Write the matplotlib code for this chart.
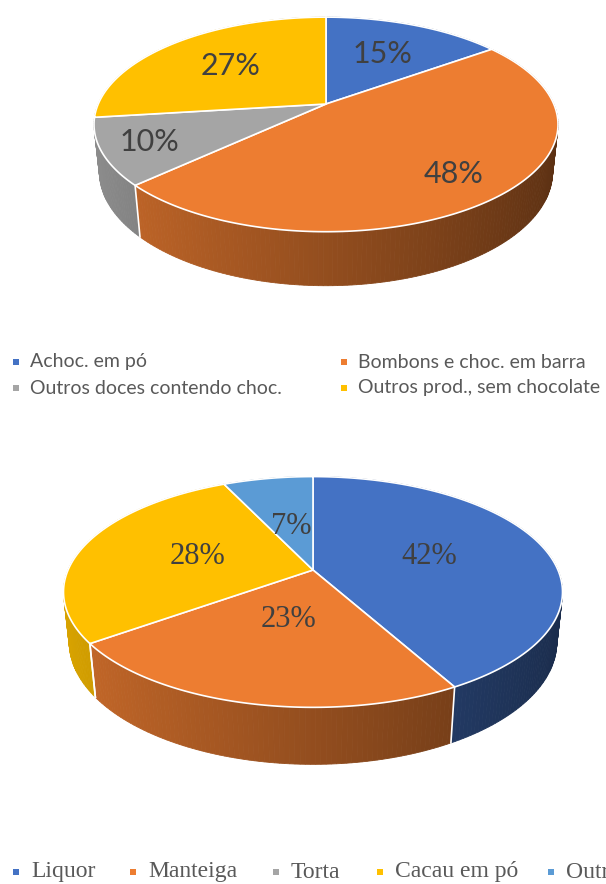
import numpy as np
import matplotlib
matplotlib.use('Agg')
import matplotlib.pyplot as plt
from matplotlib.patches import Polygon, Rectangle
from matplotlib.colors import to_rgb

# data ######################################################################
labels1 = ['Achoc. em pó', 'Bombons e choc. em barra',
           'Outros doces contendo choc.', 'Outros prod., sem chocolate']
values1 = [15, 48, 10, 27]
colors1 = ['#4472C4', '#ED7D31', '#A5A5A5', '#FFC000']

labels2 = ['Liquor', 'Manteiga', 'Torta', 'Cacau em pó', 'Outros']
values2 = [42, 23, 0, 28, 7]
colors2 = ['#4472C4', '#ED7D31', '#A5A5A5', '#FFC000', '#5B9BD5']

# figure, one axes in pixel units ##########################################
W, H = 606, 884
fig = plt.figure(figsize=(W / 100, H / 100), dpi=100)
ax = fig.add_axes([0, 0, 1, 1])
ax.set_xlim(0, W)
ax.set_ylim(H, 0)
ax.axis('off')

# simple perspective camera for the 3d pies
PHI = np.radians(27)
D = 4.68
C, S = np.cos(PHI), np.sin(PHI)


def proj(X, Y, Z):
    d = D + Y * C - Z * S
    return X / d, (Y * S + Z * C) / d


def pie3d(values, colors, cx, cy, width, thick, lab_r, font, fsize):
    t = np.linspace(0, 2 * np.pi, 721)
    xs, _ = proj(np.cos(t), np.sin(t), 0 * t)
    k = width / (2 * xs.max())
    # depth of the cylinder from the wanted front thickness
    yt = -S / (D - C)
    yb = yt - thick / k
    h = (yb * (D - C) + S) / (-C - yb * S)

    def px(X, Y, Z):
        x, y = proj(X, Y, Z)
        return cx + k * x, cy - k * y

    total = float(sum(values))
    edges = np.radians(90 - 360 * np.concatenate([[0], np.cumsum(values)]) / total)

    # side wall, small quads sorted back to front
    quads = []
    for i, col in enumerate(colors):
        a0, a1 = edges[i], edges[i + 1]
        if a0 == a1:
            continue
        n = max(2, int(abs(a0 - a1) / np.radians(1)))
        tt = np.linspace(a0, a1, n + 1)
        base = np.array(to_rgb(col))
        for j in range(n):
            u0, u1 = tt[j], tt[j + 1]
            tm = 0.5 * (u0 + u1)
            f = 0.62 - 0.24 * np.cos(tm)
            shade = np.clip(base * f, 0, 1)
            pts = [px(np.cos(u0), np.sin(u0), 0), px(np.cos(u1), np.sin(u1), 0),
                   px(np.cos(u1), np.sin(u1), -h), px(np.cos(u0), np.sin(u0), -h)]
            quads.append((np.sin(tm), pts, shade))
    quads.sort(key=lambda q: -q[0])
    for _, pts, shade in quads:
        ax.add_patch(Polygon(pts, closed=True, facecolor=shade, edgecolor=shade, lw=0.6))

    # white seams on the wall where a wedge boundary faces the viewer
    for a in edges[:-1]:
        if np.sin(a) < -1 / (D * C):
            p0 = px(np.cos(a), np.sin(a), 0)
            p1 = px(np.cos(a), np.sin(a), -h)
            ax.plot([p0[0], p1[0]], [p0[1], p1[1]], color='white', lw=1.2)

    # top face
    for i, col in enumerate(colors):
        a0, a1 = edges[i], edges[i + 1]
        if a0 == a1:
            continue
        tt = np.linspace(a0, a1, 200)
        pts = [px(0, 0, 0)] + [px(np.cos(u), np.sin(u), 0) for u in tt]
        ax.add_patch(Polygon(pts, closed=True, facecolor=col, edgecolor='white', lw=1.2))

    # percentage labels
    for i, v in enumerate(values):
        if v == 0:
            continue
        m = 0.5 * (edges[i] + edges[i + 1])
        r = lab_r[i]
        x, y = px(r * np.cos(m), r * np.sin(m), 0)
        ax.text(x, y, '%d%%' % round(100 * v / total), ha='center', va='center',
                fontsize=fsize, family=font, color='#404040')


pie3d(values1, colors1, 326, 104, 464, 54, [0.6, 0.78, 0.8, 0.6], 'Lato', 22)
pie3d(values2, colors2, 313, 570, 499, 57, [0.5, 0.42, 0, 0.5, 0.43],
      'Liberation Serif', 22)

# legends ###################################################################
leg1_x = [16, 344, 16, 344]
leg1_y = [362, 362, 388, 388]
for lab, col, x, y in zip(labels1, colors1, leg1_x, leg1_y):
    ax.add_patch(Rectangle((x - 3, y - 3), 6, 6, facecolor=col, edgecolor='none'))
    ax.text(x + 14, y, lab, ha='left', va='center', fontsize=14,
            family='Lato', color='#595959')

# the last entry runs past the right edge, as in the original
leg2_x = [16, 133, 276, 380, 551]
for lab, col, x in zip(labels2, colors2, leg2_x):
    ax.add_patch(Rectangle((x - 3, 872 - 3), 6, 6, facecolor=col, edgecolor='none'))
    ax.text(x + 15, 872, lab, ha='left', va='center', fontsize=17,
            family='Liberation Serif', color='#595959')

fig.savefig('out.png', dpi=100)
